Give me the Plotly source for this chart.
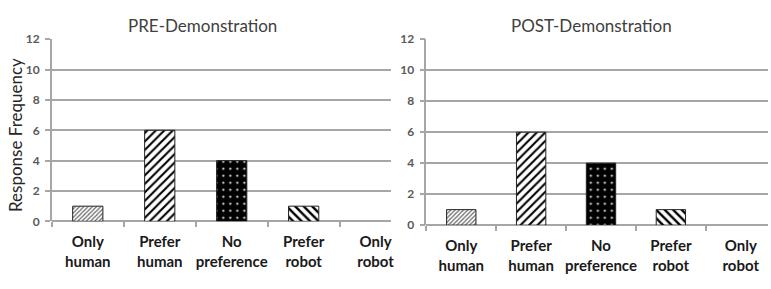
import plotly.graph_objects as go

categories = ["Only<br>human", "Prefer<br>human", "No<br>preference", "Prefer<br>robot", "Only<br>robot"]
pre_values = [1, 6, 4, 1, 0]
post_values = [1, 6, 4, 1, 0]
panel_titles = ["PRE-Demonstration", "POST-Demonstration"]
y_ticks = [0, 2, 4, 6, 8, 10, 12]
y_title = "Response Frequency"

W, H = 771, 289
FONT = "Lato, 'Open Sans', sans-serif"
GRID = "#a6a6a6"
TXT = "#404040"

pattern = dict(
    shape=["/", "/", ".", "\\", ""],
    fgcolor=["#666666", "#000000", "#ffffff", "#000000", "#000000"],
    bgcolor=["#ffffff", "#ffffff", "#000000", "#ffffff", "#ffffff"],
    size=[3, 6, 7, 6, 6],
    solidity=[0.4, 0.35, 0.08, 0.4, 0.4],
    fillmode="replace",
)

fig = go.Figure()
for i, vals in enumerate([pre_values, post_values]):
    ax = "" if i == 0 else "2"
    fig.add_trace(go.Bar(
        x=categories, y=vals,
        xaxis="x" + ax, yaxis="y" + ax,
        width=0.42,
        marker=dict(color="#ffffff", pattern=pattern,
                    line=dict(color="#222222", width=[1 if v > 0 else 0 for v in vals])),
        showlegend=False, hoverinfo="skip",
    ))

def xaxis(domain, rng, anchor):
    return dict(
        domain=domain, range=rng, anchor=anchor, type="category",
        showgrid=False, zeroline=False, showline=False,
        ticks="outside", tickson="boundaries", ticklen=5, tickcolor=GRID, tickwidth=1.5,
        tickangle=0, ticklabelstandoff=10,
        tickfont=dict(family=FONT, size=15, color="#1a1a1a", weight="bold"),
        fixedrange=True,
    )

def yaxis(domain, anchor):
    return dict(
        domain=domain, range=[0, 12], anchor=anchor,
        tickmode="array", tickvals=y_ticks,
        showgrid=True, gridcolor=GRID, gridwidth=1.5,
        zeroline=True, zerolinecolor=GRID, zerolinewidth=1.5,
        showline=True, linecolor=GRID, linewidth=1.5,
        ticks="outside", ticklen=5, tickcolor=GRID, tickwidth=1.5,
        ticklabelstandoff=3,
        tickfont=dict(family=FONT, size=12, color="#595959", weight="bold"),
        fixedrange=True,
    )

fig.update_layout(
    width=W, height=H,
    margin=dict(l=0, r=0, t=0, b=0),
    paper_bgcolor="white", plot_bgcolor="white",
    xaxis=xaxis([52 / W, 393 / W], [-0.5, 4.22], "y"),
    xaxis2=xaxis([428 / W, 1.0], [-0.5, 4.39], "y2"),
    yaxis=yaxis([1 - 225 / H, 1 - 33 / H], "x"),
    yaxis2=yaxis([1 - 229 / H, 1 - 33 / H], "x2"),
)

annotations = [
    dict(text=panel_titles[0], x=203 / W, y=1 - 18 / H, xref="paper", yref="paper",
         showarrow=False, font=dict(family=FONT, size=17, color=TXT), xanchor="center", yanchor="middle"),
    dict(text=panel_titles[1], x=594 / W, y=1 - 18 / H, xref="paper", yref="paper",
         showarrow=False, font=dict(family=FONT, size=17, color=TXT), xanchor="center", yanchor="middle"),
    dict(text=y_title, x=15 / W, y=1 - 134 / H, xref="paper", yref="paper", textangle=-90,
         showarrow=False, font=dict(family=FONT, size=17, color="#262626"), xanchor="center", yanchor="middle"),
]
fig.update_layout(annotations=annotations)

fig.write_html("out.html", config={"displayModeBar": False},
               post_script="document.body.style.margin='0';")
